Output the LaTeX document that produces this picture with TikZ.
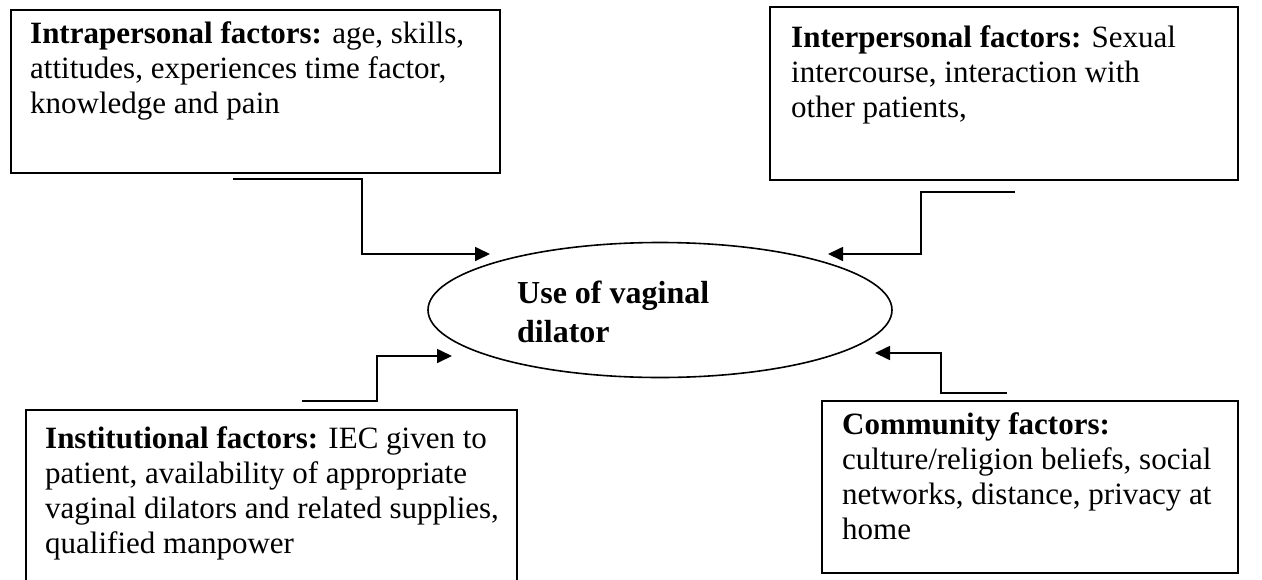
\documentclass[tikz,border=0pt]{standalone}
\usepackage{fontspec}
\setmainfont{Liberation Serif}
\usetikzlibrary{arrows.meta,shapes.geometric}
\tikzset{
  factorbox/.style={draw=black, line width=1.8pt, rectangle, inner sep=0pt, anchor=north west},
  boxtext/.style={anchor=base west, inner sep=0pt, font=\fontsize{31}{35}\selectfont},
  centretext/.style={anchor=base west, inner sep=0pt, font=\fontsize{32}{39}\selectfont\bfseries},
  link/.style={draw=black, line width=1.7pt, -{Triangle[length=15pt,width=14pt]}},
  oval/.style={draw=black, line width=1.6pt, ellipse, inner sep=0pt}
}
\begin{document}
\begin{tikzpicture}[x=1pt,y=-1pt]
\useasboundingbox (0,0) rectangle (1262,579);
\clip (0,0) rectangle (1262,579);
\fill[white] (0,0) rectangle (1262,579);

% boxes
\node[factorbox, minimum width=489pt, minimum height=163pt] (intra) at (10,9) {};
\node[boxtext] (intratext) at (30,43) {\parbox[t]{460pt}{\textbf{Intrapersonal factors:} age, skills,\\attitudes, experiences time factor,\\knowledge and pain}};

\node[factorbox, minimum width=468pt, minimum height=173pt] (inter) at (769,6) {};
\node[boxtext] (intertext) at (791,47) {\parbox[t]{440pt}{\textbf{Interpersonal factors:} Sexual\\intercourse, interaction with\\other patients,}};

\node[factorbox, minimum width=491pt, minimum height=200pt] (inst) at (25,409) {};
\node[boxtext] (insttext) at (45,448) {\parbox[t]{470pt}{\textbf{Institutional factors:} IEC given to\\patient, availability of appropriate\\vaginal dilators and related supplies,\\qualified manpower}};

\node[factorbox, minimum width=416pt, minimum height=172pt] (comm) at (821,400) {};
\node[boxtext] (commtext) at (842,434) {\parbox[t]{390pt}{\textbf{Community factors:}\\culture/religion beliefs, social\\networks, distance, privacy at\\home}};

% centre
\node[oval, minimum width=464pt, minimum height=135pt] (use) at (660,310) {};
\node[centretext] (usetext) at (517,303) {\parbox[t]{300pt}{Use of vaginal\\dilator}};

% connectors
\coordinate (a1s) at (233,179);
\coordinate (a1e) at (490,254);
\draw[link] (a1s) -| (362,254) -- (a1e);

\coordinate (a2s) at (1015,192);
\coordinate (a2e) at (828,254);
\draw[link] (a2s) -| (921,254) -- (a2e);

\coordinate (a3s) at (302,401);
\coordinate (a3e) at (452,356);
\draw[link] (a3s) -| (377,356) -- (a3e);

\coordinate (a4s) at (1007,393);
\coordinate (a4e) at (875,353);
\draw[link] (a4s) -| (941,353) -- (a4e);
\end{tikzpicture}
\end{document}
